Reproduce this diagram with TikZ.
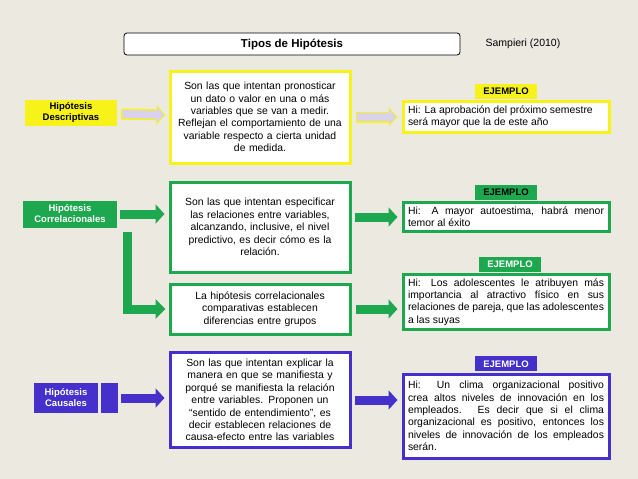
\documentclass[tikz,border=0pt]{standalone}
\usepackage{fontspec}
\setmainfont{Liberation Sans}
\usetikzlibrary{arrows.meta,positioning}
\definecolor{bg}{HTML}{ECE9E1}
\definecolor{amar}{HTML}{F7F21A}
\definecolor{verde}{HTML}{1DA850}
\definecolor{morado}{HTML}{4530CC}
\definecolor{lila}{HTML}{D9D2EE}
\begin{document}
\hyphenpenalty=10000 \exhyphenpenalty=10000
\begin{tikzpicture}[x=1pt, y=-1pt, font=\fontsize{10.4}{12.4}\selectfont]

\tikzset{
    mid/.style = {rectangle, draw, fill=white, line width=3pt, text width=172pt, minimum width=180pt, align=center, inner sep=3pt},
    ex/.style = {rectangle, draw, fill=white, line width=3pt, text width=196pt, minimum width=206pt, align=justify, inner sep=4pt},
    tag/.style = {rectangle, font=\fontsize{9.5}{10}\selectfont\bfseries, minimum width=62pt, minimum height=15pt, inner sep=1pt},
    lab/.style = {rectangle, font=\fontsize{9.5}{11}\selectfont\bfseries, align=center, inner sep=2pt},
    fat/.style = {line width=9pt, -{Triangle[length=9pt, width=19pt]}}
}

\fill[bg] (0,0) rectangle (638,479);
\useasboundingbox (0,0) rectangle (638,479);

% title
\node[draw, rounded corners=3pt, fill=white, thick, minimum width=336pt, minimum height=22pt, font=\fontsize{11.5}{13}\selectfont\bfseries] at (292,44) (titulo) {Tipos de Hipótesis};
\node[font=\fontsize{10.5}{12}\selectfont] at (523,44) (autor) {Sampieri (2010)};

% left labels
\node[lab, fill=amar, minimum width=92pt, minimum height=26pt] at (71,113) (desc) {Hipótesis\\Descriptivas};
\node[lab, fill=verde, text=white, minimum width=94pt, minimum height=27pt] at (70,214) (corr) {Hipótesis\\Correlacionales};
\node[lab, fill=morado, text=white, minimum width=64pt, minimum height=30pt] at (66,398) (caus) {Hipótesis\\Causales};

% middle boxes
\node[mid, draw=amar, minimum height=92pt] at (260,117) (d1) {Son las que intentan pronosticar\\un dato o valor en una o más\\variables que se van a medir.\\Reflejan el comportamiento de una variable respecto a cierta unidad\\de medida.};
\node[mid, draw=verde, minimum height=90pt] at (260,227) (c1) {Son las que intentan especificar\\las relaciones entre variables,\\alcanzando, inclusive, el nivel\\predictivo, es decir cómo es la\\relación.};
\node[mid, draw=verde, minimum height=50pt] at (260,309) (c2) {La hipótesis correlacionales\\comparativas establecen\\diferencias entre grupos};
\node[mid, draw=morado, minimum height=95pt] at (260,400) (k1) {Son las que intentan explicar la\\manera en que se manifiesta y\\porqué se manifiesta la relación\\entre variables. Proponen un\\“sentido de entendimiento”, es\\decir establecen relaciones de\\causa-efecto entre las variables};

% examples
\node[ex, draw=amar, minimum height=28pt] at (506,117) (e1) {Hi: La aprobación del próximo semestre\\será mayor que la de este año};
\node[tag, fill=amar, above=1pt of e1] (t1) {EJEMPLO};
\node[ex, draw=verde, minimum height=29pt] at (506,217) (e2) {Hi: A mayor autoestima, habrá menor temor al éxito};
\node[tag, fill=verde, above=1pt of e2] (t2) {EJEMPLO};
\node[ex, draw=verde, minimum height=55pt] at (506,302) (e3) {Hi: Los adolescentes le atribuyen más importancia al atractivo físico en sus relaciones de pareja, que las adolescentes a las suyas};
\node[tag, fill=verde, text=white, above=1pt of e3, xshift=4pt] (t3) {EJEMPLO};
\node[ex, draw=morado, minimum height=84pt] at (506,416) (e4) {Hi: Un clima organizacional positivo crea altos niveles de innovación en los empleados. Es decir que si el clima organizacional es positivo, entonces los niveles de innovación de los empleados serán.};
\node[tag, fill=morado, text=white, above=1pt of e4] (t4) {EJEMPLO};

% arrows
\draw[fat, draw=amar, line width=11pt, shorten <=4pt, shorten >=3pt] (desc) -- (d1);
\draw[fat, draw=lila, line width=8pt, -{Triangle[length=7pt, width=15pt]}, shorten <=5.5pt, shorten >=4.5pt] (desc) -- (d1);
\draw[fat, draw=amar, line width=11pt, shorten <=4pt, shorten >=4pt] (d1) -- (e1);
\draw[fat, draw=lila, line width=8pt, -{Triangle[length=7pt, width=15pt]}, shorten <=5.5pt, shorten >=5.5pt] (d1) -- (e1);
\draw[fat, draw=verde, shorten <=3pt, shorten >=4pt] (corr.east) -- (corr.east -| c1.west);
\draw[fat, draw=verde, shorten <=3pt, shorten >=4pt] (c1.east |- e2) -- (e2);
\draw[fat, draw=verde, -{Triangle[length=10pt, width=19pt]}, shorten >=3pt] ([xshift=10pt, yshift=-4pt]corr.south east) |- (c2.west);
\draw[fat, draw=verde, shorten <=4pt, shorten >=4pt] (c2.east) -- (c2.east -| e3.west);
\fill[morado] ([xshift=3pt]caus.north east) rectangle ([xshift=20pt]caus.south east);
\draw[fat, draw=morado, shorten <=23pt, shorten >=4pt] (caus.east) -- (caus.east -| k1.west);
\draw[fat, draw=morado, shorten <=3pt, shorten >=4pt] (k1.east) -- (k1.east -| e4.west);

\end{tikzpicture}
\end{document}
